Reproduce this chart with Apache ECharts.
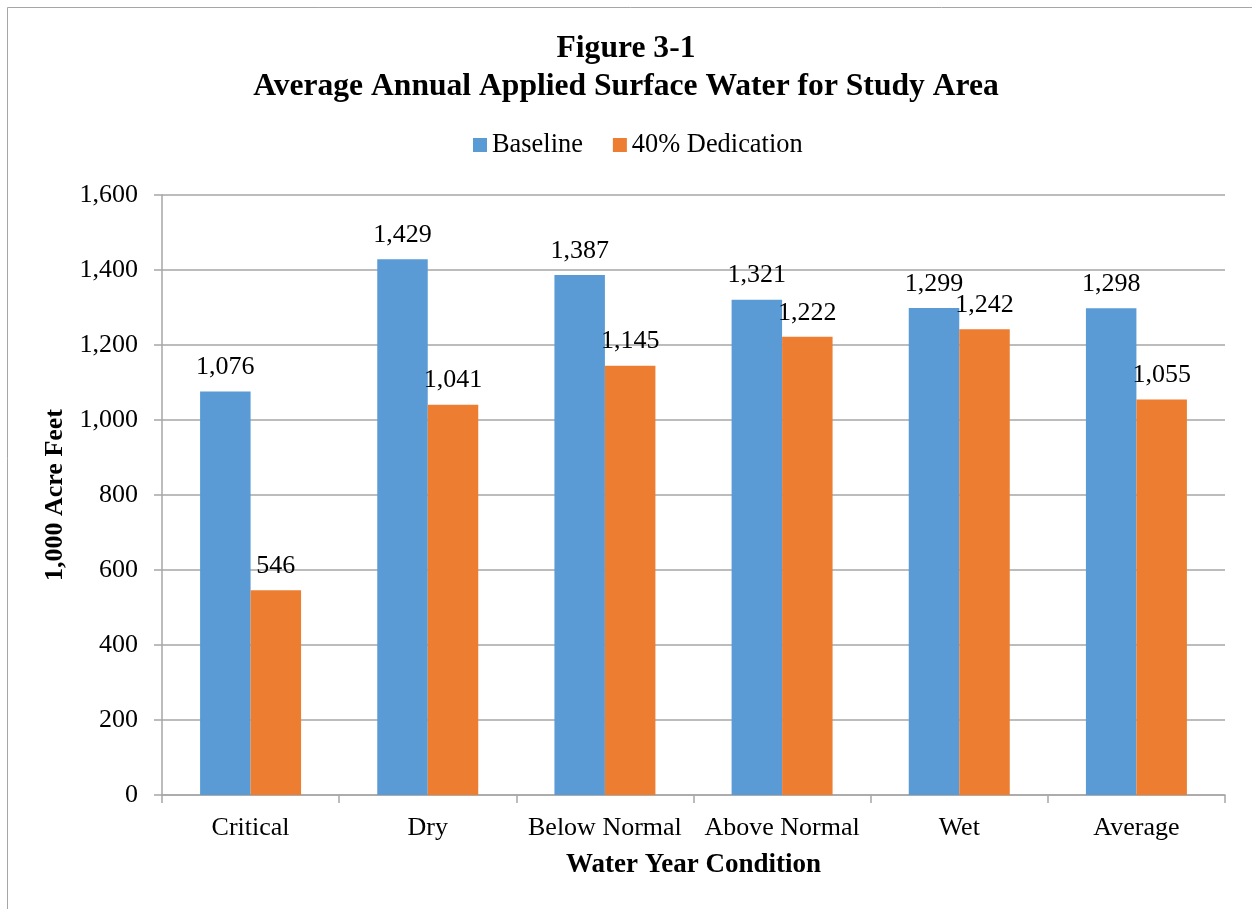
<!DOCTYPE html>
<html>
<head>
<meta charset="utf-8">
<script src="https://cdn.jsdelivr.net/npm/echarts@6/dist/echarts.min.js"></script>
<style>
html,body{margin:0;padding:0;background:#fff;overflow:hidden;}
#chart{width:1252px;height:909px;}
</style>
</head>
<body>
<div id="chart"></div>
<script>
const categories = ['Critical', 'Dry', 'Below Normal', 'Above Normal', 'Wet', 'Average'];
const baseline = [1076, 1429, 1387, 1321, 1299, 1298];
const dedication = [546, 1041, 1145, 1222, 1242, 1055];
const seriesNames = ['Baseline', '40% Dedication'];
const yTicks = { min: 0, max: 1600, interval: 200 };

const FONT = '"Liberation Serif", "Times New Roman", serif';
const fmt = v => Number(v).toLocaleString('en-US');

const chart = echarts.init(document.getElementById('chart'), null, { renderer: 'canvas' });
chart.setOption({
  animation: false,
  backgroundColor: '#fff',
  textStyle: { fontFamily: FONT, color: '#000' },
  graphic: [{
    type: 'rect', silent: true,
    shape: { x: 7.5, y: 7.5, width: 1400, height: 1100 },
    style: { fill: 'none', stroke: '#a6a6a6', lineWidth: 1 }
  }],
  title: {
    text: 'Figure 3-1\nAverage Annual Applied Surface Water for Study Area',
    left: 'center', top: 25,
    textStyle: { fontFamily: FONT, fontWeight: 'bold', fontSize: 31.6, lineHeight: 38, color: '#000' }
  },
  legend: {
    top: 127, left: 468,
    itemWidth: 14, itemHeight: 14, itemGap: 30,
    icon: 'rect',
    textStyle: { fontFamily: FONT, fontSize: 26.4, color: '#000', padding: [0, 0, 0, 0] },
    data: seriesNames
  },
  grid: { left: 162, right: 27, top: 195, bottom: 114, containLabel: false },
  xAxis: {
    type: 'category',
    data: categories,
    name: 'Water Year Condition',
    nameLocation: 'middle',
    nameGap: 57,
    nameTextStyle: { fontFamily: FONT, fontWeight: 'bold', fontSize: 27, color: '#000' },
    axisLine: { lineStyle: { color: '#a6a6a6', width: 1.5 } },
    axisTick: { show: true, length: 8, lineStyle: { color: '#a6a6a6', width: 1.5 } },
    axisLabel: { fontFamily: FONT, fontSize: 26, color: '#000', margin: 20, interval: 0 }
  },
  yAxis: {
    type: 'value',
    min: yTicks.min, max: yTicks.max, interval: yTicks.interval,
    name: '1,000 Acre Feet',
    nameLocation: 'middle',
    nameGap: 90,
    nameTextStyle: { fontFamily: FONT, fontWeight: 'bold', fontSize: 26, color: '#000' },
    axisLine: { show: true, lineStyle: { color: '#a6a6a6', width: 1.5 } },
    axisTick: { show: true, length: 8, lineStyle: { color: '#a6a6a6', width: 1.5 } },
    splitLine: { show: true, lineStyle: { color: '#a6a6a6', width: 1.5 } },
    axisLabel: { fontFamily: FONT, fontSize: 26, color: '#000', margin: 24, formatter: fmt }
  },
  series: [
    {
      name: seriesNames[0], type: 'bar', data: baseline,
      barWidth: '28.5%', barGap: '0%',
      itemStyle: { color: '#5b9bd5' },
      label: { show: true, position: 'top', distance: 11, fontFamily: FONT, fontSize: 26, color: '#000', formatter: p => fmt(p.value) }
    },
    {
      name: seriesNames[1], type: 'bar', data: dedication,
      barWidth: '28.5%', barGap: '0%',
      itemStyle: { color: '#ed7d31' },
      label: { show: true, position: 'top', distance: 11, fontFamily: FONT, fontSize: 26, color: '#000', formatter: p => fmt(p.value) }
    }
  ]
});
</script>
</body>
</html>
